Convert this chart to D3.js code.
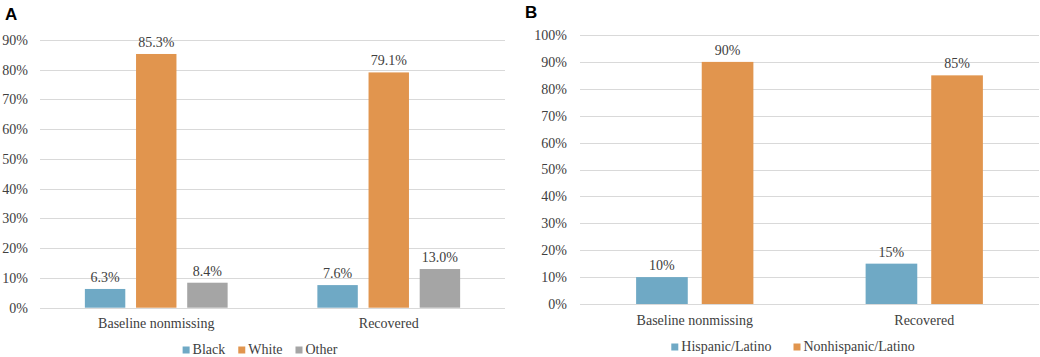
<!DOCTYPE html>
<html>
<head>
<meta charset="utf-8">
<script src="https://cdn.jsdelivr.net/npm/d3@7"></script>
<style>
  body { margin: 0; background: #fff; }
</style>
</head>
<body>
<svg id="chart" width="1040" height="357"></svg>
<script>
// panel A: race
const groupsA = ["Baseline nonmissing", "Recovered"];
const seriesA = ["Black", "White", "Other"];
const valuesA = [
  [6.3, 85.3, 8.4],
  [7.6, 79.1, 13.0]
];
const ticksA = [0, 10, 20, 30, 40, 50, 60, 70, 80, 90];

// panel B: ethnicity
const groupsB = ["Baseline nonmissing", "Recovered"];
const seriesB = ["Hispanic/Latino", "Nonhispanic/Latino"];
const valuesB = [
  [10, 90],
  [15, 85]
];
const ticksB = [0, 10, 20, 30, 40, 50, 60, 70, 80, 90, 100];

const colors = ["#6fa9c5", "#e1954e", "#a5a5a5"];

const svg = d3.select("#chart");

// every text of the chart gets the serif face directly
function serifText(sel) {
  return sel.style("font-family", "'Liberation Serif'")
    .style("font-size", "14px")
    .style("fill", "#404040");
}

function drawPanel(opt) {
  const g = svg.append("g");
  let y = d3.scaleLinear().domain([0, opt.yMax]).range([opt.bottom, opt.top]);
  let x0 = d3.scaleBand().domain(opt.groups).range([opt.left, opt.right])
    .paddingInner(opt.groupPad).paddingOuter(opt.groupPad / 2);
  let x1 = d3.scaleBand().domain(opt.series).range([0, x0.bandwidth()]).paddingInner(opt.barPad);

  // gridlines
  g.selectAll("line.grid")
    .data(opt.ticks)
    .enter()
    .append("line")
    .attr("x1", opt.left).attr("x2", opt.right)
    .attr("y1", d => Math.round(y(d)) + 0.5).attr("y2", d => Math.round(y(d)) + 0.5)
    .attr("stroke", "#d9d9d9").attr("stroke-width", 1);

  // y tick labels
  g.selectAll("text.ytick")
    .data(opt.ticks)
    .enter()
    .append("text")
    .attr("x", opt.tickX).attr("y", d => y(d))
    .attr("dy", "0.35em")
    .attr("text-anchor", "end")
    .call(serifText)
    .text(d => d + "%");

  const groupG = g.selectAll("g.group")
    .data(opt.values)
    .enter()
    .append("g")
    .attr("transform", (d, i) => "translate(" + x0(opt.groups[i]) + ",0)");

  groupG.selectAll("rect")
    .data(d => d)
    .enter()
    .append("rect")
    .attr("x", (d, j) => x1(opt.series[j]))
    .attr("y", d => y(d))
    .attr("width", x1.bandwidth())
    .attr("height", d => y(0) - y(d))
    .attr("fill", (d, j) => colors[j]);

  groupG.selectAll("text")
    .data(d => d)
    .enter()
    .append("text")
    .attr("x", (d, j) => x1(opt.series[j]) + x1.bandwidth() / 2)
    .attr("y", d => y(d) - 7)
    .attr("text-anchor", "middle")
    .call(serifText)
    .text(d => opt.fmt(d));

  // category labels
  g.selectAll("text.cat")
    .data(opt.groups)
    .enter()
    .append("text")
    .attr("x", d => x0(d) + x0.bandwidth() / 2)
    .attr("y", opt.catY)
    .attr("text-anchor", "middle")
    .call(serifText)
    .text(d => d);

  // legend
  const leg = g.append("g");
  let cx = 0;
  opt.series.forEach(function(s, j) {
    leg.append("rect")
      .attr("x", cx).attr("y", opt.legY - 7.5)
      .attr("width", 7).attr("height", 7)
      .attr("fill", colors[j]);
    let t = leg.append("text")
      .attr("x", cx + 10).attr("y", opt.legY)
      .call(serifText)
      .text(s);
    cx += 10 + t.node().getComputedTextLength() + opt.legGap;
  });
  let legW = cx - opt.legGap;
  leg.attr("transform", "translate(" + (opt.legCenter - legW / 2) + ",0)");

  g.append("text")
    .attr("x", opt.letterX).attr("y", opt.letterY)
    .style("font-family", "'Liberation Sans'")
    .style("font-weight", "bold")
    .style("font-size", "17px")
    .style("fill", "#000")
    .text(opt.letter);
}

drawPanel({
  groups: groupsA, series: seriesA, values: valuesA, ticks: ticksA,
  yMax: 90, top: 40, bottom: 307.7, left: 40, right: 505,
  groupPad: 0.386, barPad: 0.21, tickX: 28,
  catY: 328, legY: 354, legCenter: 260, legGap: 13,
  fmt: d => d.toFixed(1) + "%",
  letter: "A", letterX: 5, letterY: 20
});

drawPanel({
  groups: groupsB, series: seriesB, values: valuesB, ticks: ticksB,
  yMax: 100, top: 35, bottom: 304, left: 580, right: 1039,
  groupPad: 0.489, barPad: 0.213, tickX: 567,
  catY: 325, legY: 351, legCenter: 793, legGap: 22,
  fmt: d => d + "%",
  letter: "B", letterX: 525, letterY: 18
});
</script>
</body>
</html>
